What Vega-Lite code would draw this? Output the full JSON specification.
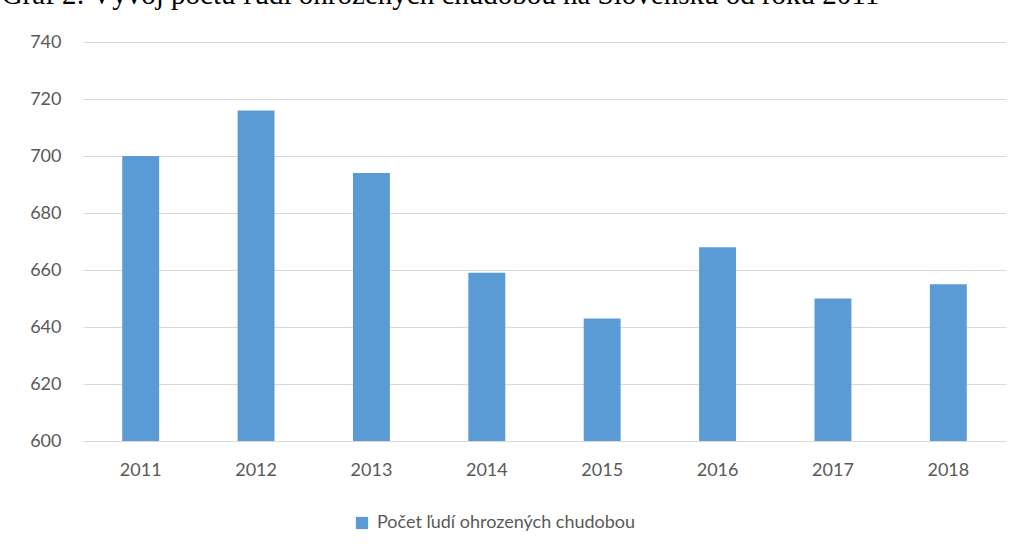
{
  "$schema": "https://vega.github.io/schema/vega-lite/v6.json",
  "autosize": {"type": "none"},
  "width": 923,
  "height": 399,
  "padding": {"left": 83, "top": 42, "right": 18, "bottom": 116},
  "background": "white",
  "title": {
    "text": "Graf 2: Vývoj počtu ľudí ohrozených chudobou na Slovensku od roku 2011",
    "anchor": "start",
    "font": "Liberation Serif",
    "fontSize": 29,
    "fontWeight": "normal",
    "color": "#000000",
    "offset": 23,
    "dx": -28
  },
  "data": {
    "values": [
      {"rok": "2011", "pocet": 700, "serie": "Počet ľudí ohrozených chudobou"},
      {"rok": "2012", "pocet": 716, "serie": "Počet ľudí ohrozených chudobou"},
      {"rok": "2013", "pocet": 694, "serie": "Počet ľudí ohrozených chudobou"},
      {"rok": "2014", "pocet": 659, "serie": "Počet ľudí ohrozených chudobou"},
      {"rok": "2015", "pocet": 643, "serie": "Počet ľudí ohrozených chudobou"},
      {"rok": "2016", "pocet": 668, "serie": "Počet ľudí ohrozených chudobou"},
      {"rok": "2017", "pocet": 650, "serie": "Počet ľudí ohrozených chudobou"},
      {"rok": "2018", "pocet": 655, "serie": "Počet ľudí ohrozených chudobou"}
    ]
  },
  "mark": {"type": "bar", "clip": true},
  "encoding": {
    "x": {
      "field": "rok",
      "type": "ordinal",
      "scale": {"paddingInner": 0.68, "paddingOuter": 0.34},
      "axis": {
        "title": null,
        "labelAngle": 0,
        "domain": false,
        "ticks": false,
        "labelPadding": 20,
        "labelFont": "Lato",
        "labelFontSize": 18,
        "labelColor": "#595959"
      }
    },
    "y": {
      "field": "pocet",
      "type": "quantitative",
      "scale": {"domain": [600, 740], "zero": false, "nice": false},
      "axis": {
        "title": null,
        "values": [600, 620, 640, 660, 680, 700, 720, 740],
        "domain": false,
        "ticks": false,
        "labelPadding": 22,
        "labelFont": "Lato",
        "labelFontSize": 18,
        "labelColor": "#595959",
        "gridColor": "#d9d9d9",
        "gridWidth": 1
      }
    },
    "color": {
      "field": "serie",
      "type": "nominal",
      "scale": {"range": ["#5B9BD5"]},
      "legend": {
        "title": null,
        "orient": "none",
        "legendX": 270,
        "legendY": 472,
        "symbolType": "square",
        "symbolSize": 150,
        "symbolStrokeWidth": 0,
        "labelFont": "Lato",
        "labelFontSize": 18,
        "labelColor": "#595959",
        "labelOffset": 6,
        "labelLimit": 0
      }
    }
  },
  "config": {
    "view": {"stroke": null}
  }
}
